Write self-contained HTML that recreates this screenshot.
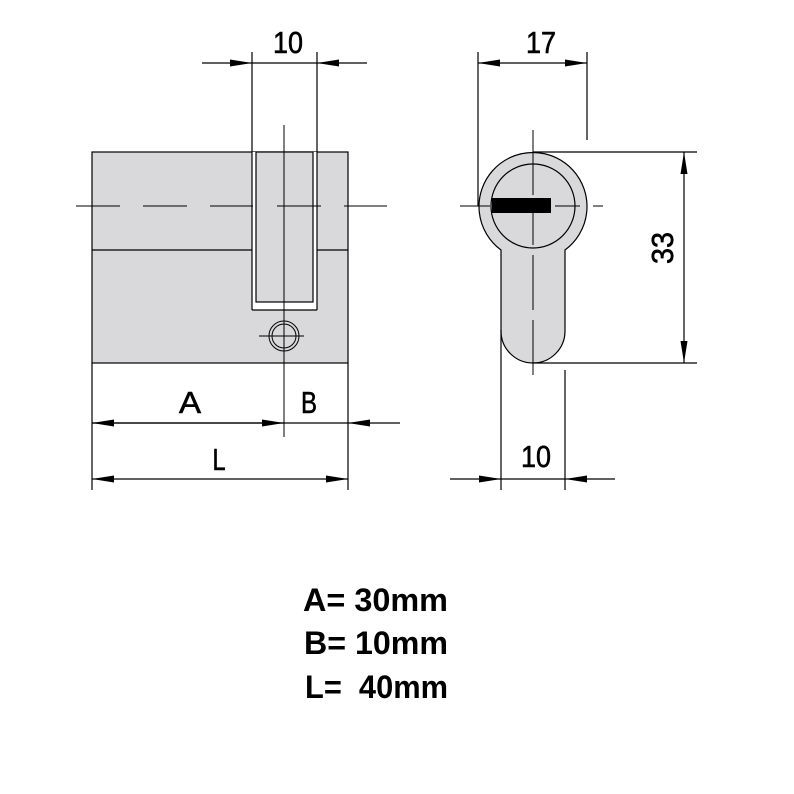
<!DOCTYPE html>
<html><head><meta charset="utf-8"><style>html,body{margin:0;padding:0;background:#fff}svg{display:block}</style></head>
<body>
<svg width="794" height="794" viewBox="0 0 794 794" xmlns="http://www.w3.org/2000/svg">
<defs>
<marker id="ar" viewBox="0 0 22 7" refX="22" refY="3.5" markerWidth="22" markerHeight="7" markerUnits="userSpaceOnUse" orient="auto"><path d="M0,0 L22,3.5 L0,7 z" fill="#000"/></marker>
</defs>
<g stroke="#000" stroke-width="1.2" fill="none">
<rect x="92" y="152" width="256" height="211" fill="#d9d9db"/>
<line x1="92" y1="250" x2="348" y2="250"/>
<rect x="252" y="152" width="65" height="158" fill="#fff" stroke="none"/>
<line x1="252" y1="52" x2="252" y2="310"/>
<line x1="317" y1="52" x2="317" y2="310"/>
<line x1="252" y1="310" x2="317" y2="310"/>
<rect x="256" y="152" width="57" height="150" fill="#d9d9db"/>
<g stroke-width="1">
<line x1="76" y1="206" x2="120" y2="206"/><line x1="143" y1="206" x2="187" y2="206"/><line x1="210" y1="206" x2="253" y2="206"/><line x1="277" y1="206" x2="321" y2="206"/><line x1="344" y1="206" x2="387" y2="206"/>
<line x1="284" y1="125" x2="284" y2="437"/>
<circle cx="284" cy="336" r="15"/><circle cx="284" cy="336" r="12"/>
<line x1="259" y1="336" x2="304" y2="336"/>
</g>
<line x1="202" y1="63" x2="252" y2="63" marker-end="url(#ar)"/>
<line x1="367" y1="63" x2="317" y2="63" marker-end="url(#ar)"/>
<line x1="252" y1="63" x2="317" y2="63"/>
<line x1="92" y1="363" x2="92" y2="490"/>
<line x1="348" y1="363" x2="348" y2="490"/>
<line x1="284" y1="423" x2="92" y2="423" marker-end="url(#ar)"/>
<line x1="92" y1="423" x2="284" y2="423" marker-end="url(#ar)"/>
<line x1="400" y1="423" x2="348" y2="423" marker-end="url(#ar)"/>
<line x1="284" y1="423" x2="348" y2="423"/>
<line x1="220" y1="479" x2="92" y2="479" marker-end="url(#ar)"/>
<line x1="220" y1="479" x2="348" y2="479" marker-end="url(#ar)"/>
<path d="M501,250 A54,54 0 1 1 565,250 L565,331 A32,32 0 0 1 501,331 Z" fill="#d9d9db"/>
<circle cx="533" cy="206" r="42"/>
<rect x="492" y="198" width="59" height="15" fill="#000" stroke="none"/>
<g stroke-width="1">
<line x1="460" y1="206" x2="490" y2="206"/><line x1="555" y1="206" x2="580" y2="206"/><line x1="593" y1="206" x2="603" y2="206"/>
<line x1="533" y1="130" x2="533" y2="195"/><line x1="533" y1="200" x2="533" y2="245"/><line x1="533" y1="255" x2="533" y2="310"/><line x1="533" y1="320" x2="533" y2="375"/>
</g>
<line x1="478" y1="52" x2="478" y2="206"/>
<line x1="587" y1="52" x2="587" y2="140"/>
<line x1="532" y1="63" x2="478" y2="63" marker-end="url(#ar)"/>
<line x1="532" y1="63" x2="587" y2="63" marker-end="url(#ar)"/>
<line x1="533" y1="152" x2="697" y2="152"/>
<line x1="533" y1="363" x2="697" y2="363"/>
<line x1="684" y1="258" x2="684" y2="152" marker-end="url(#ar)"/>
<line x1="684" y1="258" x2="684" y2="363" marker-end="url(#ar)"/>
<line x1="501" y1="330" x2="501" y2="490"/>
<line x1="565" y1="370" x2="565" y2="490"/>
<line x1="450" y1="479" x2="501" y2="479" marker-end="url(#ar)"/>
<line x1="615" y1="479" x2="565" y2="479" marker-end="url(#ar)"/>
<line x1="501" y1="479" x2="565" y2="479"/>
</g>
<g font-family="Liberation Sans, sans-serif" font-size="31" fill="#000" stroke="#000" stroke-width="0.6" text-anchor="middle">
<text x="288" y="53" textLength="30" lengthAdjust="spacingAndGlyphs">10</text>
<text x="541" y="53" textLength="30" lengthAdjust="spacingAndGlyphs">17</text>
<text x="190" y="413" textLength="22" lengthAdjust="spacingAndGlyphs">A</text>
<text x="309" y="413" textLength="16" lengthAdjust="spacingAndGlyphs">B</text>
<text x="219" y="470" textLength="13" lengthAdjust="spacingAndGlyphs">L</text>
<text x="536" y="467" textLength="30" lengthAdjust="spacingAndGlyphs">10</text>
<text x="0" y="0" transform="translate(673,248) rotate(-90)" textLength="32" lengthAdjust="spacingAndGlyphs">33</text>
</g>
<g font-family="Liberation Sans, sans-serif" font-size="32" font-weight="bold" fill="#000">
<text x="303" y="611" textLength="145" lengthAdjust="spacingAndGlyphs">A= 30mm</text>
<text x="304" y="654" textLength="144" lengthAdjust="spacingAndGlyphs">B= 10mm</text>
<text x="305" y="698" xml:space="preserve" textLength="143" lengthAdjust="spacingAndGlyphs">L=  40mm</text>
</g>
</svg>
</body></html>
